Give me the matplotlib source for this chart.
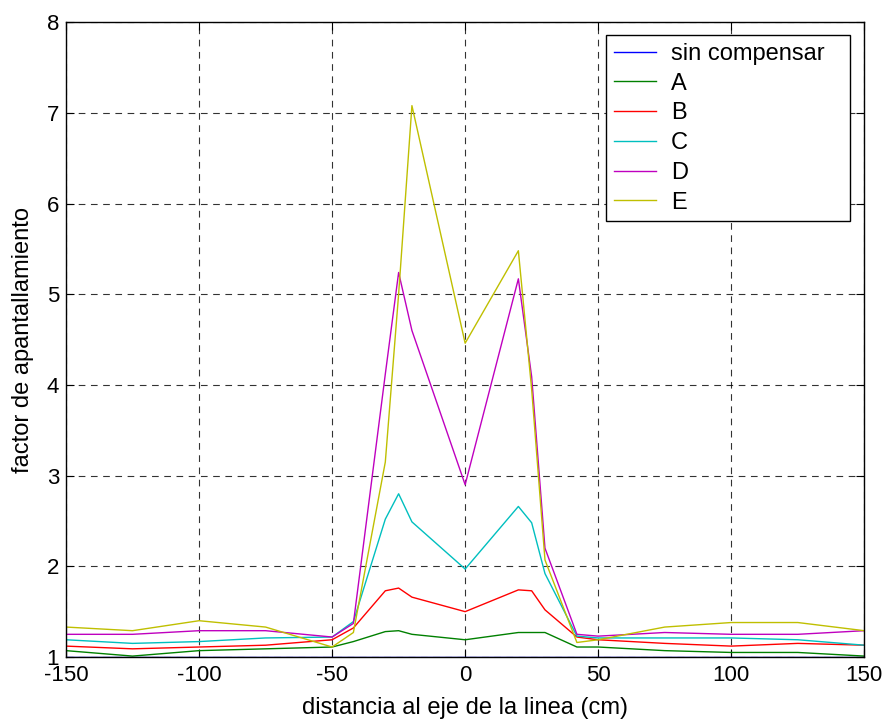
import numpy as np
import matplotlib
matplotlib.use('Agg')
import matplotlib.pyplot as plt

plt.rcParams['font.family'] = ['Liberation Sans', 'DejaVu Sans']
plt.rcParams['axes.unicode_minus'] = False

# distancia al eje de la linea (cm)
x = [-150, -125, -100, -75, -50, -42, -30, -25, -20, 0,
     20, 25, 30, 42, 50, 75, 100, 125, 150]

sin_comp = [1.0] * len(x)
A = [1.07, 1.01, 1.07, 1.09, 1.11, 1.17, 1.28, 1.29, 1.25, 1.19,
     1.27, 1.27, 1.27, 1.11, 1.11, 1.07, 1.05, 1.05, 1.01]
B = [1.12, 1.09, 1.11, 1.13, 1.19, 1.32, 1.73, 1.76, 1.66, 1.50,
     1.74, 1.73, 1.52, 1.22, 1.19, 1.15, 1.12, 1.15, 1.13]
C = [1.19, 1.15, 1.17, 1.21, 1.22, 1.39, 2.52, 2.80, 2.49, 1.97,
     2.66, 2.48, 1.92, 1.23, 1.21, 1.21, 1.21, 1.19, 1.13]
D = [1.25, 1.25, 1.29, 1.29, 1.22, 1.37, 4.12, 5.24, 4.60, 2.90,
     5.17, 4.09, 2.20, 1.25, 1.23, 1.27, 1.25, 1.25, 1.29]
E = [1.33, 1.29, 1.40, 1.33, 1.11, 1.27, 3.15, 5.00, 7.08, 4.46,
     5.48, 3.95, 2.07, 1.16, 1.19, 1.33, 1.38, 1.38, 1.29]

series = [sin_comp, A, B, C, D, E]
labels = ['sin compensar', 'A', 'B', 'C', 'D', 'E']
colors = [(0, 0, 1), (0, 0.5, 0), (1, 0, 0), (0, 0.75, 0.75),
          (0.75, 0, 0.75), (0.75, 0.75, 0)]

fig = plt.figure(figsize=(8.87, 7.23), dpi=100)
ax = fig.add_axes([0.0744, 0.0913, 0.900, 0.878])

for y, lab, c in zip(series, labels, colors):
    ax.plot(x, y, color=c, label=lab, linewidth=1.0)

ax.set_xlim(-150, 150)
ax.set_ylim(1, 8)
ax.set_xticks(np.arange(-150, 151, 50))
ax.set_yticks(np.arange(1, 9, 1))
ax.grid(True, color='black', linestyle=(0, (6, 5)), linewidth=0.8, alpha=0.8)
ax.tick_params(direction='in', top=True, right=True, labelsize=16, length=6)
ax.tick_params(axis='x', pad=6)
ax.tick_params(axis='y', pad=5)
for s in ax.spines.values():
    s.set_linewidth(1.0)

ax.set_xlabel('distancia al eje de la linea (cm)', fontsize=17, labelpad=8)
ax.set_ylabel('factor de apantallamiento', fontsize=17, labelpad=9)

leg = ax.legend(loc='upper left', bbox_to_anchor=(0.6767, 0.5, 0.3058, 0.4795),
                mode='expand', fontsize=17,
                fancybox=False, framealpha=1, edgecolor='black',
                handlelength=1.78, borderpad=0.32, labelspacing=0.33,
                handletextpad=0.64, borderaxespad=0)
leg.get_frame().set_linewidth(1.0)

plt.savefig('out.png', dpi=100)
